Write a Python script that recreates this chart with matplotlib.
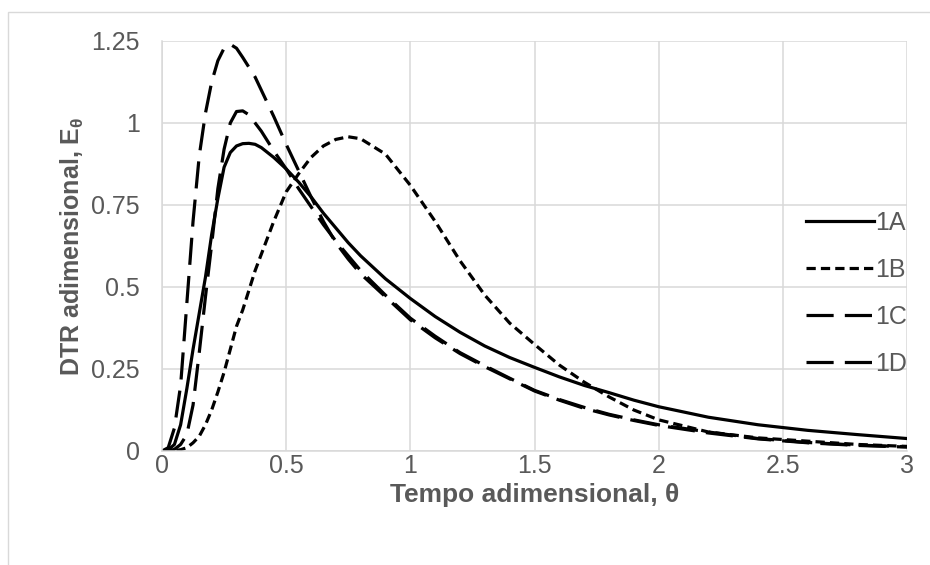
import matplotlib
matplotlib.use('Agg')
import matplotlib.pyplot as plt
from matplotlib.patches import Rectangle

plt.rcParams['font.family'] = ['Liberation Sans', 'DejaVu Sans']
plt.rcParams['mathtext.fontset'] = 'custom'
plt.rcParams['mathtext.bf'] = 'Liberation Sans:bold'
plt.rcParams['mathtext.rm'] = 'Liberation Sans'

# tempo adimensional (theta) and E(theta)
theta = [0, 0.025, 0.05, 0.075, 0.1, 0.125, 0.15, 0.175, 0.2, 0.225, 0.25, 0.275,
         0.3, 0.325, 0.35, 0.375, 0.4, 0.45, 0.5, 0.55, 0.6, 0.65, 0.7, 0.75, 0.8,
         0.9, 1.0, 1.1, 1.2, 1.3, 1.4, 1.5, 1.6, 1.7, 1.8, 1.9, 2.0, 2.2, 2.4, 2.6,
         2.8, 3.0]

e_1a = [0, 0.003, 0.02, 0.08, 0.19, 0.31, 0.42, 0.53, 0.66, 0.77, 0.865, 0.91,
        0.93, 0.937, 0.938, 0.935, 0.925, 0.895, 0.86, 0.82, 0.775, 0.725, 0.68, 0.635, 0.595,
        0.525, 0.465, 0.41, 0.362, 0.32, 0.285, 0.255, 0.226, 0.2, 0.178, 0.155, 0.135, 0.103,
        0.08, 0.063, 0.05, 0.038]

e_1b = [0, 0, 0.001, 0.004, 0.01, 0.025, 0.045, 0.08, 0.125, 0.18, 0.24, 0.31,
        0.38, 0.43, 0.49, 0.55, 0.6, 0.7, 0.79, 0.845, 0.895, 0.93, 0.95, 0.958, 0.952,
        0.905, 0.81, 0.7, 0.58, 0.475, 0.39, 0.325, 0.262, 0.21, 0.165, 0.125, 0.095, 0.058,
        0.04, 0.03, 0.02, 0.014]

e_1c = [0, 0, 0.005, 0.02, 0.05, 0.14, 0.3, 0.47, 0.63, 0.8, 0.92, 1.0,
        1.035, 1.037, 1.025, 1.0, 0.975, 0.915, 0.86, 0.8, 0.745, 0.69, 0.64, 0.595, 0.55,
        0.475, 0.405, 0.35, 0.3, 0.26, 0.222, 0.185, 0.157, 0.133, 0.112, 0.095, 0.08, 0.058,
        0.038, 0.026, 0.018, 0.013]

e_1d = [0, 0.01, 0.07, 0.2, 0.45, 0.7, 0.9, 1.03, 1.125, 1.19, 1.228, 1.24,
        1.228, 1.2, 1.17, 1.14, 1.1, 1.02, 0.935, 0.855, 0.775, 0.7, 0.635, 0.585, 0.54,
        0.47, 0.4, 0.345, 0.297, 0.257, 0.22, 0.183, 0.155, 0.13, 0.11, 0.093, 0.078, 0.055,
        0.037, 0.025, 0.017, 0.012]

labels = ['1A', '1B', '1C', '1D']
x_ticks = [0, 0.5, 1, 1.5, 2, 2.5, 3]
x_ticklabels = ['0', '0.5', '1', '1.5', '2', '2.5', '3']
y_ticks = [0, 0.25, 0.5, 0.75, 1, 1.25]
y_ticklabels = ['0', '0.25', '0.5', '0.75', '1', '1.25']

gray = '#595959'
grid = '#d9d9d9'
fs = 18

fig = plt.figure(figsize=(9.3, 5.65), dpi=100)
fig.patches.append(Rectangle((8 / 930, -0.05), 1.1, 1 - 12 / 565 + 0.05, transform=fig.transFigure,
                             fill=False, edgecolor=grid, linewidth=1.0, zorder=0))
ax = fig.add_axes([162 / 930, 1 - 451 / 565, 745 / 930, 410 / 565])

ax.plot(theta, e_1a, color='black', lw=2.3, label=labels[0])
ax.plot(theta, e_1b, color='black', lw=2.3, dashes=(2.9, 1.6), label=labels[1])
ax.plot(theta, e_1c, color='black', lw=2.3, dashes=(8.5, 3.5), label=labels[2])
ax.plot(theta, e_1d, color='black', lw=2.3, dashes=(8.5, 3.5), label=labels[3])

ax.set_xlim(0, 3)
ax.set_ylim(0, 1.25)
ax.set_xticks(x_ticks)
ax.set_xticklabels(x_ticklabels)
ax.set_yticks(y_ticks)
ax.set_yticklabels(y_ticklabels)
ax.tick_params(length=0, labelsize=fs, labelcolor=gray)
ax.tick_params(axis='y', pad=16)
ax.tick_params(axis='x', pad=2)
ax.grid(True, color=grid, linewidth=1.1)
ax.set_axisbelow(True)
for s in ['top', 'right']:
    ax.spines[s].set_visible(False)
for s in ['left', 'bottom']:
    ax.spines[s].set_color(grid)
    ax.spines[s].set_linewidth(1.1)

ax.set_xlabel('Tempo adimensional, θ', fontsize=19, fontweight='bold', color=gray, labelpad=4)
ax.set_ylabel(r'DTR adimensional, E$_{\mathbf{θ}}$', fontsize=fs, fontweight='bold', color=gray, labelpad=4)

leg = ax.legend(loc='upper left', bbox_to_anchor=(806 / 930, 1 - 211 / 565), bbox_transform=fig.transFigure,
                frameon=False, fontsize=fs, handlelength=2.7, handletextpad=0.08,
                labelspacing=0.92, borderpad=0, borderaxespad=0)
for t in leg.get_texts():
    t.set_color(gray)

fig.savefig('out.png', dpi=100)
